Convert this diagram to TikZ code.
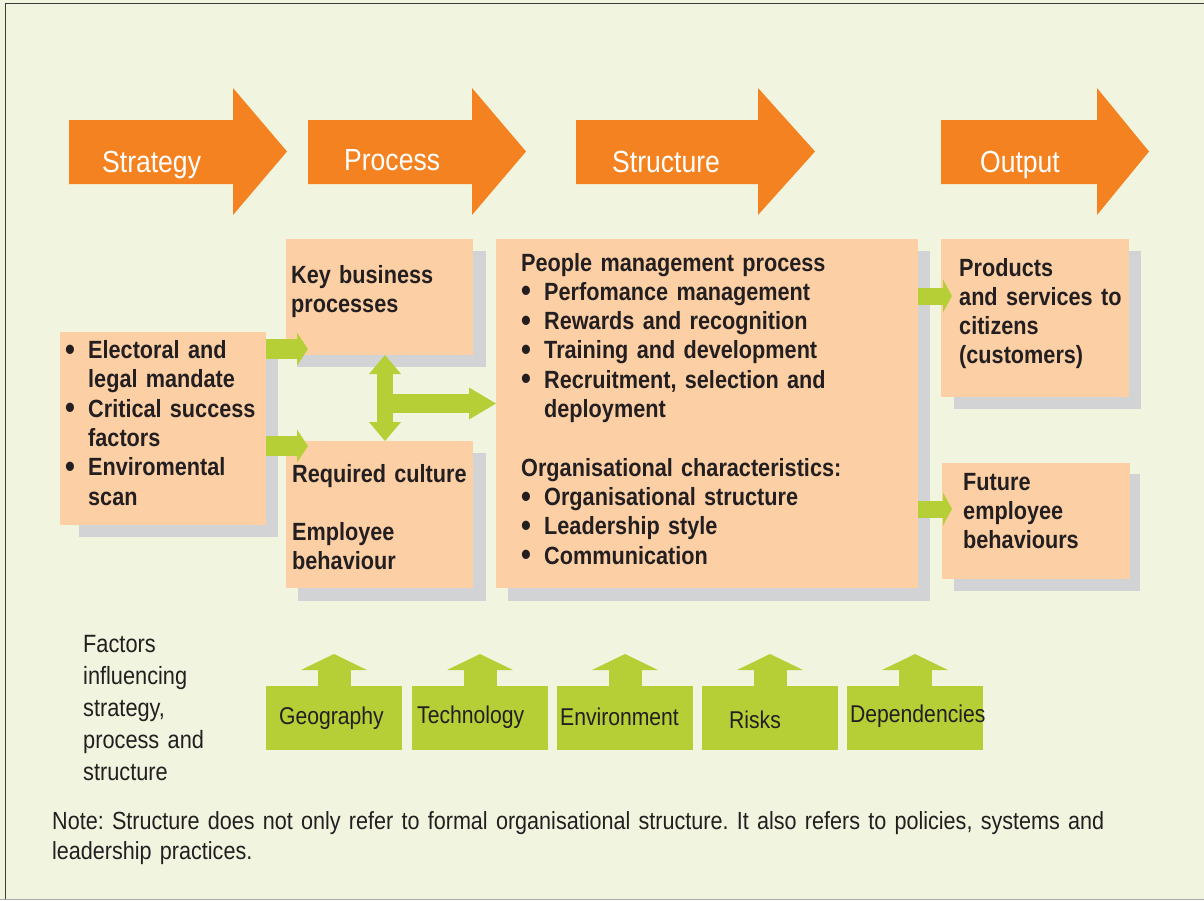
\documentclass[tikz,border=0pt]{standalone}
\usepackage{fontspec}
\setmainfont{Liberation Sans}[FakeStretch=0.87, WordSpace=0.8]
\usetikzlibrary{arrows.meta}
\frenchspacing
\definecolor{bgc}{RGB}{241,244,222}
\definecolor{orangeA}{RGB}{245,130,32}
\definecolor{peach}{RGB}{252,207,165}
\definecolor{shadowc}{RGB}{209,211,212}
\definecolor{greenc}{RGB}{182,207,54}
\definecolor{ink}{RGB}{35,31,32}
\definecolor{framec}{RGB}{60,60,58}
% bullet and hanging indent for list lines
\newcommand\bul{\makebox[23pt][l]{\raisebox{-1.6pt}{\scalebox{1.3}{\textbullet}}}}
\newcommand\ind{\hspace*{23pt}}
% orange block arrow: body from #1 to #2, tip at #3
\newcommand\blockarrow[3]{\fill[orangeA] (#1,120) -- (#2,120) -- (#2,88) -- (#3,151.5) -- (#2,215) -- (#2,184) -- (#1,184) -- cycle;}
\begin{document}
\begin{tikzpicture}[x=1pt,y=-1pt,
  box/.style={fill=peach, inner sep=0, outer sep=0, anchor=north west},
  shade/.style={fill=shadowc},
  body/.style={inner sep=0, anchor=base west, align=left, text=ink,
    font=\bfseries\fontsize{24.9}{29.3}\selectfont},
  plain/.style={inner sep=0, anchor=base west, align=left, text=ink,
    font=\fontsize{25}{32}\selectfont},
  note/.style={inner sep=0, anchor=base west, align=left, text=ink,
    font=\fontsize{24.8}{30}\selectfont},
  headtxt/.style={inner sep=0, anchor=base west, text=white,
    font=\fontsize{30.5}{36}\selectfont},
  gbox/.style={fill=greenc, inner sep=0, outer sep=0, anchor=north west,
    minimum width=136pt, minimum height=64pt},
  glabel/.style={inner sep=0, anchor=base west, text=ink,
    font=\fontsize{24.3}{29}\selectfont},
  upar/.style={draw=greenc, line width=33pt,
    -{Triangle[width=66pt,length=16pt,line width=0pt]}},
  sidear/.style={draw=greenc, line width=20pt,
    -{Triangle[width=33pt,length=11pt,line width=0pt]}},
  outar/.style={draw=greenc, line width=17pt,
    -{Triangle[width=33pt,length=9pt,line width=0pt]}},
  dblar/.style={draw=greenc, line width=16pt,
    {Triangle[width=32pt,length=19pt,line width=0pt]}-{Triangle[width=32pt,length=19pt,line width=0pt]}},
  teear/.style={draw=greenc, line width=19pt,
    -{Triangle[width=32pt,length=27pt,line width=0pt]}}
]
% canvas and frame
\fill[bgc] (0,0) rectangle (1204,900);
\useasboundingbox (0,0) rectangle (1204,900);
\draw[framec, line width=1.6pt] (5.5,900) -- (5.5,3.5) -- (1204,3.5);
\draw[shadowc!80!black, line width=1pt] (0,899.5) -- (1204,899.5);

% stage arrows
\blockarrow{69}{233}{287}
\blockarrow{308}{472}{526}
\blockarrow{576}{758}{815}
\blockarrow{941}{1097}{1149}
\node[headtxt] (hStrategy) at (102,172) {Strategy};
\node[headtxt] (hProcess) at (344,170.5) {Process};
\node[headtxt] (hStructure) at (612,172.5) {Structure};
\node[headtxt] (hOutput) at (980,172.5) {Output};

% shadows
\fill[shade] (79,344) rectangle (278,537);
\fill[shade] (297,251) rectangle (486,367);
\fill[shade] (298,453) rectangle (486,601);
\fill[shade] (508,251) rectangle (930,601);
\fill[shade] (954,251) rectangle (1141,409);
\fill[shade] (954,474) rectangle (1140,591);

% boxes
\node[box, minimum width=206pt, minimum height=193pt] (leftbox) at (60,332) {};
\node[box, minimum width=187pt, minimum height=116pt] (keybox) at (286,239) {};
\node[box, minimum width=187pt, minimum height=147pt] (culturebox) at (286,441) {};
\node[box, minimum width=422pt, minimum height=349pt] (centerbox) at (496,239) {};
\node[box, minimum width=188pt, minimum height=158pt] (prodbox) at (941,239) {};
\node[box, minimum width=188pt, minimum height=116pt] (futurebox) at (942,463) {};

% box texts
\node[body, text width=200pt] (tLeft) at (65,358.5) {\bul Electoral and\\ \ind legal mandate\\ \bul Critical success\\ \ind factors\\ \bul Enviromental\\ \ind scan};
\node[body, text width=180pt] (tKey) at (291,283) {Key business\\processes};
\node[body, text width=185pt] (tCulture) at (292,482) {Required culture\\[29.3pt]Employee\\behaviour};
\node[body, text width=400pt] (tCenter) at (521,271) {People management process\\
 \bul Perfomance management\\
 \bul Rewards and recognition\\
 \bul Training and development\\
 \bul Recruitment, selection and\\
 \ind deployment\\[29.3pt]
 Organisational characteristics:\\
 \bul Organisational structure\\
 \bul Leadership style\\
 \bul Communication};
\node[body, text width=185pt] (tProd) at (959,276) {Products\\and services to\\citizens\\(customers)};
\node[body, text width=180pt] (tFuture) at (963,490) {Future\\employee\\behaviours};

% green connectors between the boxes
\coordinate (k1) at (308,349);
\coordinate (k2) at (308,446);
\draw[sidear] (leftbox.east |- k1) -- (k1);
\draw[sidear] (leftbox.east |- k2) -- (k2);
\coordinate (vx) at (385,403.5);
\draw[dblar] (keybox.south -| vx) -- (culturebox.north -| vx);
\draw[teear] (vx) -- (centerbox.west |- vx);
\coordinate (o1) at (952,296);
\coordinate (o2) at (952,509);
\draw[outar] (centerbox.east |- o1) -- (o1);
\draw[outar] (centerbox.east |- o2) -- (o2);

% influencing factors
\node[plain, text width=150pt] (tFactors) at (83,652) {Factors\\influencing\\strategy,\\process and\\structure};
\node[gbox] (geo) at (266,686) {};
\node[gbox] (tech) at (412,686) {};
\node[gbox] (env) at (557,686) {};
\node[gbox] (risk) at (702,686) {};
\node[gbox] (dep) at (847,686) {};
\draw[upar] (geo.north) -- ++(0,-32);
\draw[upar] (tech.north) -- ++(0,-32);
\draw[upar] (env.north) -- ++(0,-32);
\draw[upar] (risk.north) -- ++(0,-32);
\draw[upar] (dep.north) -- ++(0,-32);
\node[glabel] (lGeo) at (279,724) {Geography};
\node[glabel] (lTech) at (417,723) {Technology};
\node[glabel] (lEnv) at (560,725) {Environment};
\node[glabel] (lRisk) at (729,728) {Risks};
\node[glabel] (lDep) at (850,722) {Dependencies};

% note
\node[note, text width=1140pt] (tNote) at (52,829) {Note: Structure does not only refer to formal organisational structure. It also refers to policies, systems and\\leadership practices.};
\end{tikzpicture}
\end{document}
